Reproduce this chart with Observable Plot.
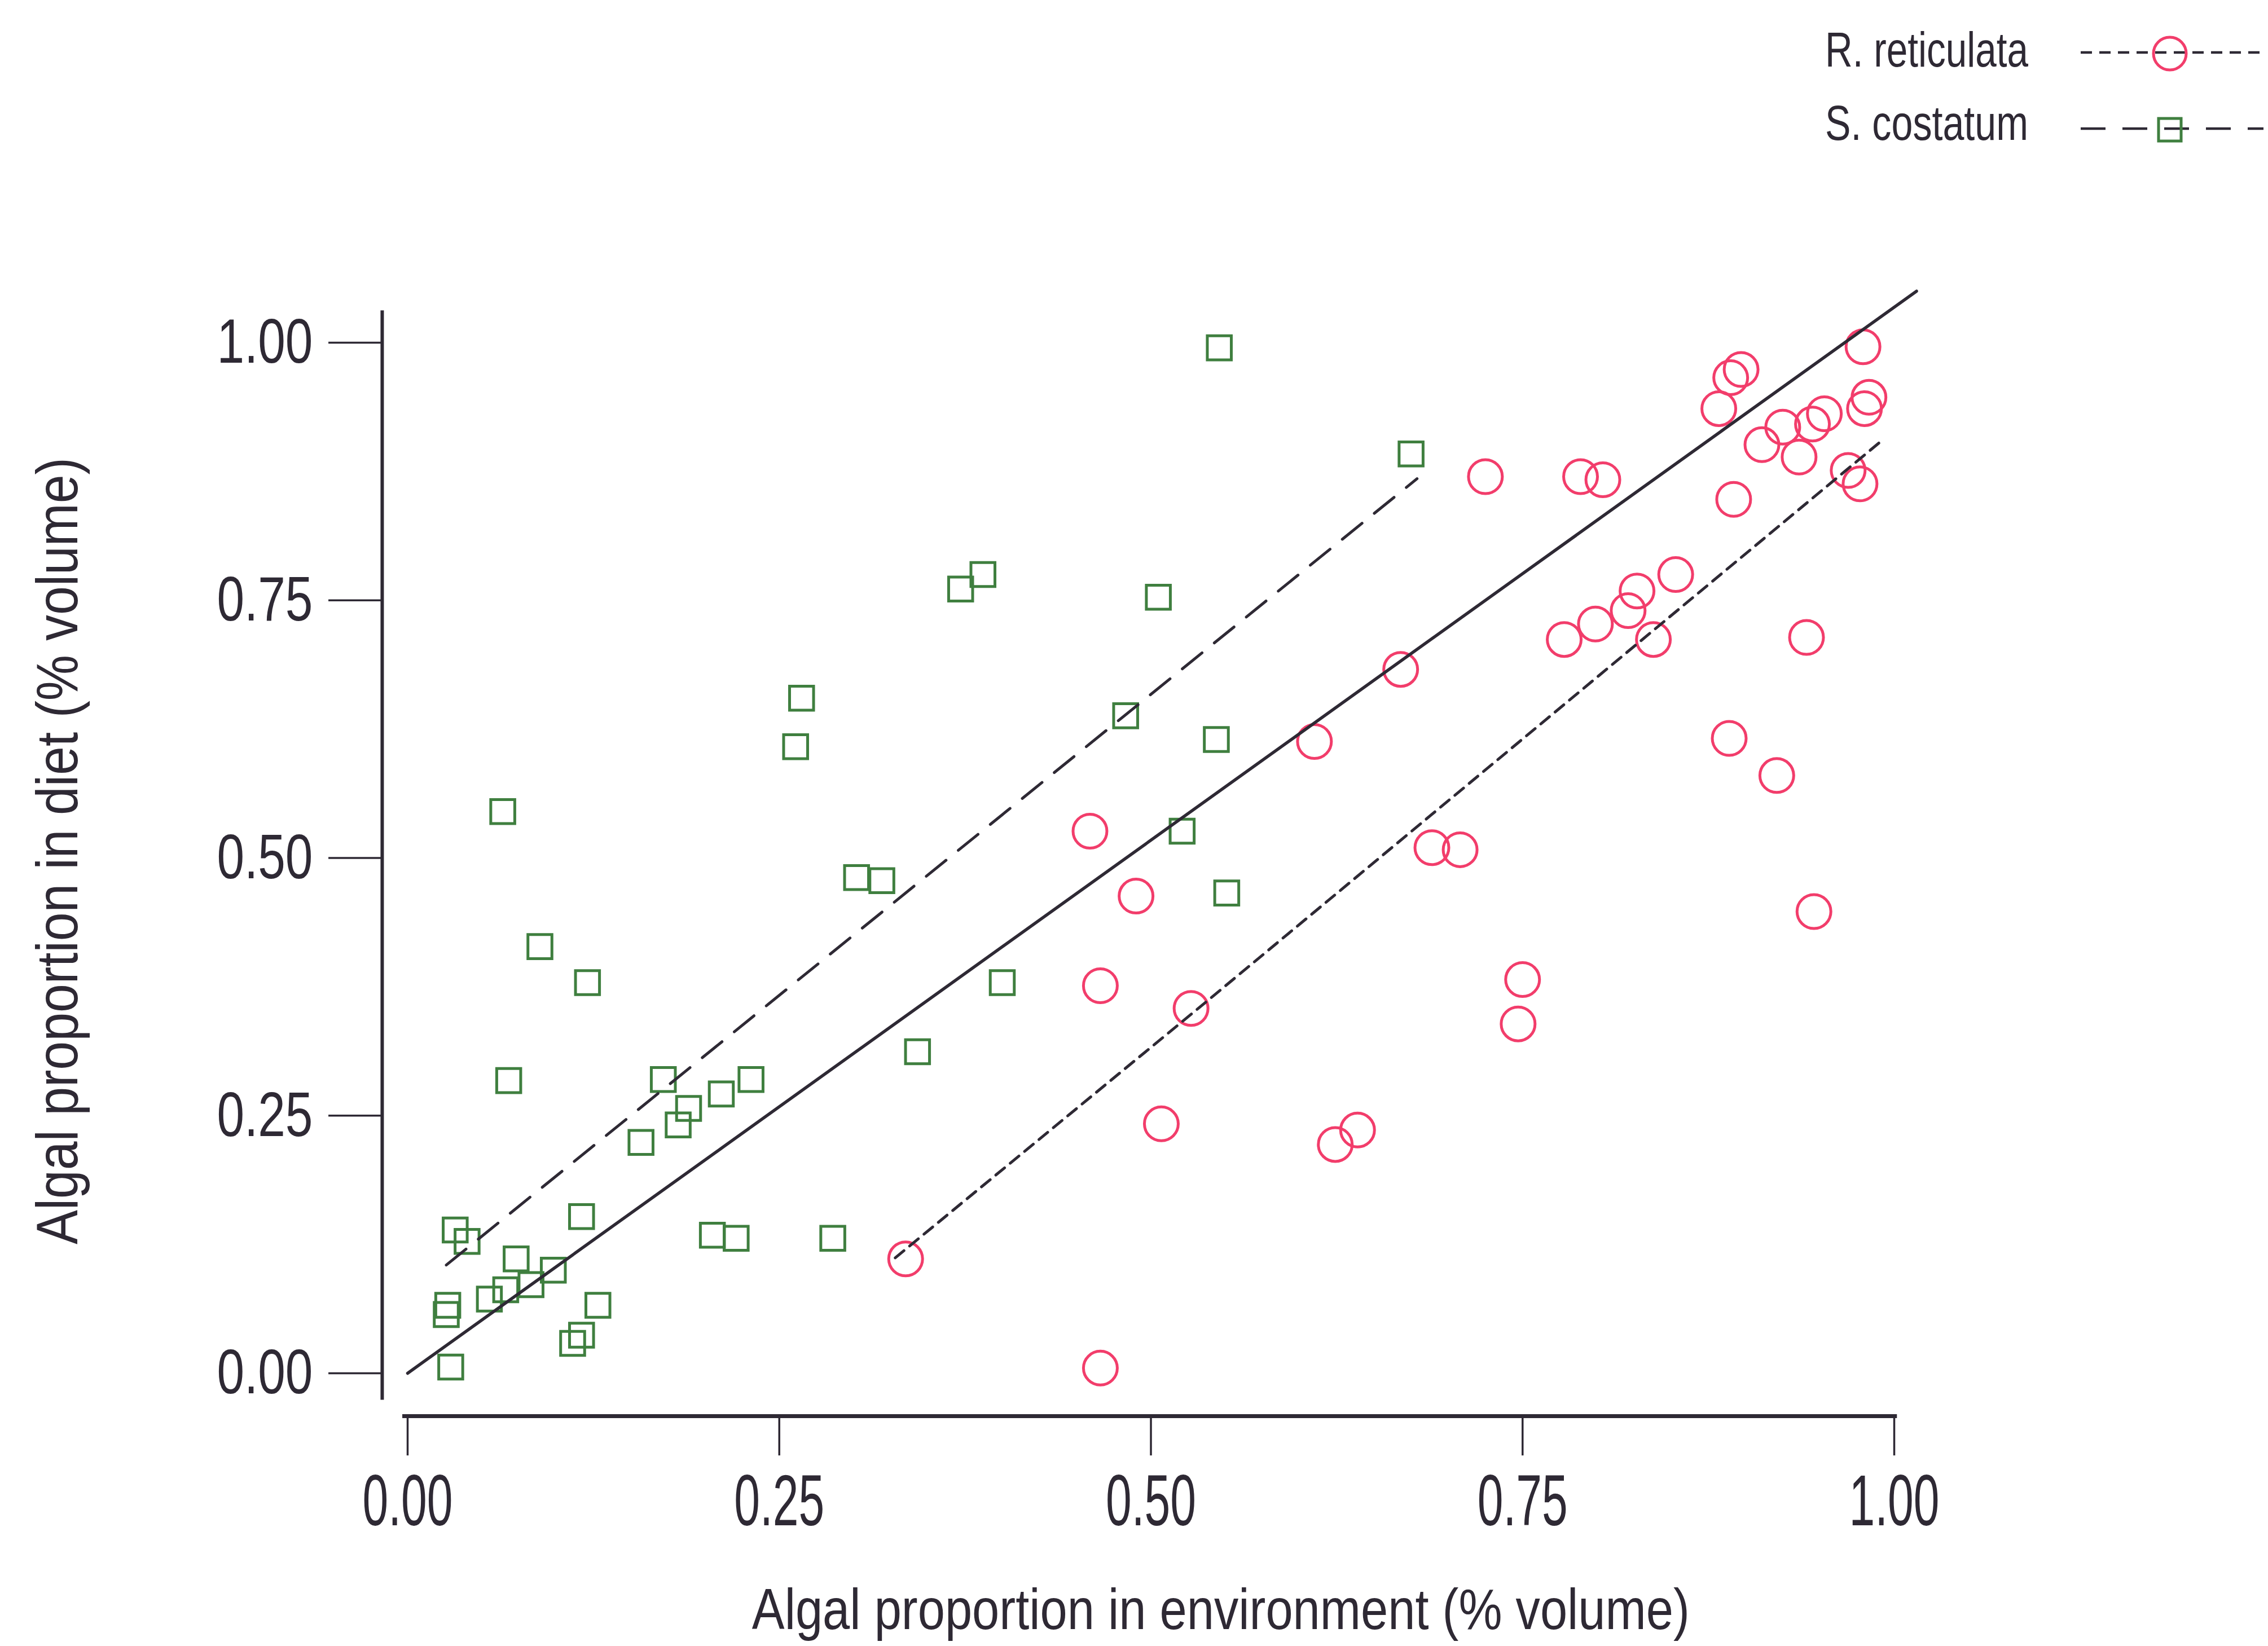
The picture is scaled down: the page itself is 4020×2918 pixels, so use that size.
<!DOCTYPE html>
<html>
<head>
<meta charset="utf-8">
<script src="https://cdn.jsdelivr.net/npm/d3@7"></script>
<script src="https://cdn.jsdelivr.net/npm/@observablehq/plot@0.6"></script>
<style>
  body { margin: 0; background: #fff; }
  #wrap { position: relative; width: 4020px; height: 2918px; overflow: hidden; background: #fff; }
  #legend { position: absolute; left: 0; top: 0; }
</style>
</head>
<body>
<div id="wrap"></div>
<script>
// ---------------- DATA ----------------
const seriesNames = ["R. reticulata", "S. costatum"];

const reticulataX = [0.725,0.789,0.804,0.890,0.897,0.882,0.979,0.983,0.980,0.953,0.945,0.925,0.911,0.936,0.969,0.977,0.892,0.853,0.827,0.821,0.799,0.778,0.838,0.941,0.889,0.921,0.689,0.708,0.946,0.750,0.747,0.490,0.466,0.527,0.507,0.624,0.639,0.466,0.335,0.668,0.610,0.459];
const reticulataY = [0.870,0.870,0.867,0.966,0.974,0.936,0.996,0.947,0.936,0.931,0.921,0.918,0.901,0.889,0.876,0.863,0.848,0.775,0.759,0.740,0.727,0.712,0.712,0.714,0.616,0.580,0.510,0.508,0.448,0.382,0.339,0.463,0.376,0.354,0.242,0.222,0.236,0.005,0.111,0.683,0.613,0.526];

const costatumX = [0.265,0.261,0.064,0.546,0.675,0.372,0.387,0.505,0.483,0.544,0.521,0.551,0.400,0.302,0.319,0.089,0.121,0.343,0.068,0.172,0.231,0.211,0.189,0.182,0.157,0.117,0.032,0.040,0.205,0.221,0.286,0.073,0.098,0.083,0.066,0.055,0.027,0.026,0.128,0.117,0.111,0.029];
const costatumY = [0.655,0.608,0.545,0.995,0.892,0.761,0.775,0.753,0.638,0.615,0.526,0.466,0.379,0.481,0.478,0.414,0.379,0.312,0.284,0.285,0.285,0.271,0.257,0.241,0.224,0.152,0.139,0.128,0.134,0.131,0.131,0.111,0.100,0.086,0.081,0.072,0.066,0.057,0.066,0.037,0.029,0.006];

// fitted lines (end points)
const overallFitX = [0, 1.015];
const overallFitY = [0, 1.050];
const costatumFitX = [0.026, 0.679];
const costatumFitY = [0.105, 0.868];
const reticulataFitX = [0.328, 0.536, 0.990];
const reticulataFitY = [0.112, 0.359, 0.903];

const xTicks = [0, 0.25, 0.5, 0.75, 1];
const xTickLabels = ["0.00", "0.25", "0.50", "0.75", "1.00"];
const yTicks = [0, 0.25, 0.5, 0.75, 1];
const yTickLabels = ["0.00", "0.25", "0.50", "0.75", "1.00"];

const xLabel = "Algal proportion in environment (% volume)";
const yLabel = "Algal proportion in diet (% volume)";

// ---------------- BUILD ----------------
const toPts = (xs, ys) => xs.map((x, i) => ({x, y: ys[i]}));
const ret = toPts(reticulataX, reticulataY);
const cos = toPts(costatumX, costatumY);
const overall = toPts(overallFitX, overallFitY);
const cosFit = toPts(costatumFitX, costatumFitY);
const retFit = toPts(reticulataFitX, reticulataFitY);

const FONT = "'Liberation Sans','Arial','Helvetica',sans-serif";
const INK = "#2e2934";
const RED = "#f23d6b";
const GREEN = "#3f7f3f";

const chart = Plot.plot({
  width: 4020,
  height: 2918,
  marginLeft: 722,
  marginRight: 663,
  marginTop: 607,
  marginBottom: 484,
  style: {background: "white", fontFamily: FONT, overflow: "visible", color: INK},
  x: {domain: [0, 1], axis: null},
  y: {domain: [0, 1], axis: null},
  marks: [
    // y axis
    Plot.ruleX([-0.0171], {y1: -0.026, y2: 1.031, stroke: INK, strokeWidth: 6}),
    Plot.ruleY(yTicks, {x1: -0.0531, x2: -0.0171, stroke: INK, strokeWidth: 3.5}),
    Plot.text(yTicks, {x: -0.0638, y: d => d, text: (d, i) => yTickLabels[i], textAnchor: "end", fontSize: 112, fill: INK}),
    // x axis
    Plot.ruleY([-0.0416], {x1: -0.0034, x2: 1.002, stroke: INK, strokeWidth: 7}),
    Plot.ruleX(xTicks, {y1: -0.0416, y2: -0.080, stroke: INK, strokeWidth: 3.5}),
    Plot.text(xTicks, {x: d => d, y: -0.1253, text: (d, i) => xTickLabels[i], fontSize: 128, fill: INK}),
    // axis titles
    Plot.text([xLabel], {x: 0.547, y: -0.2304, text: d => d, fontSize: 102, fill: INK}),
    Plot.text([yLabel], {x: -0.2349, y: 0.5068, text: d => d, rotate: -90, fontSize: 104, fill: INK}),
    // points
    Plot.dot(cos, {x: "x", y: "y", symbol: "square", r: 24, stroke: GREEN, strokeWidth: 5, fill: "none"}),
    Plot.dot(ret, {x: "x", y: "y", symbol: "circle", r: 30, stroke: RED, strokeWidth: 5, fill: "none"}),
    // fitted lines
    Plot.line(overall, {x: "x", y: "y", stroke: INK, strokeWidth: 5.5}),
    Plot.line(cosFit, {x: "x", y: "y", stroke: INK, strokeWidth: 5, strokeDasharray: "45,28"}),
    Plot.line(retFit, {x: "x", y: "y", stroke: INK, strokeWidth: 5, strokeDasharray: "20,13"})
  ]
});

// condense texts like the scanned (narrow) typeface of the figure
function squeeze(el, len) {
  el.setAttribute("textLength", len);
  el.setAttribute("lengthAdjust", "spacingAndGlyphs");
}
d3.select(chart).selectAll("text").each(function () {
  const t = this.textContent;
  const anchor = this.parentNode.getAttribute("text-anchor");
  if (anchor === "end" && yTickLabels.includes(t)) squeeze(this, 170);
  else if (anchor !== "end" && xTickLabels.includes(t)) squeeze(this, 160);
  else if (t === xLabel) squeeze(this, 1662);
  else if (t === yLabel) squeeze(this, 1395);
});

const wrap = document.getElementById("wrap");
wrap.appendChild(chart);

// ---------------- LEGEND ----------------
const leg = d3.select(wrap).append("svg")
  .attr("id", "legend")
  .attr("width", 4020).attr("height", 300)
  .style("font-family", FONT);

const legendRows = [
  {name: seriesNames[0], ty: 118, ly: 93, dash: "20,13", kind: "circle", color: RED},
  {name: seriesNames[1], ty: 248, ly: 228, dash: "44,30", kind: "square", color: GREEN}
];
legendRows.forEach(r => {
  const t = leg.append("text").attr("x", 3235).attr("y", r.ty).attr("font-size", 88).attr("fill", INK).text(r.name);
  squeeze(t.node(), 360);
  leg.append("line").attr("x1", 3688).attr("x2", 4012).attr("y1", r.ly).attr("y2", r.ly)
    .attr("stroke", INK).attr("stroke-width", 4.5).attr("stroke-dasharray", r.dash);
  if (r.kind === "circle") {
    leg.append("circle").attr("cx", 3846).attr("cy", r.ly + 2).attr("r", 29)
      .attr("fill", "none").attr("stroke", r.color).attr("stroke-width", 5);
  } else {
    leg.append("rect").attr("x", 3826).attr("y", r.ly - 18).attr("width", 40).attr("height", 40)
      .attr("fill", "none").attr("stroke", r.color).attr("stroke-width", 5);
  }
});
</script>
</body>
</html>
